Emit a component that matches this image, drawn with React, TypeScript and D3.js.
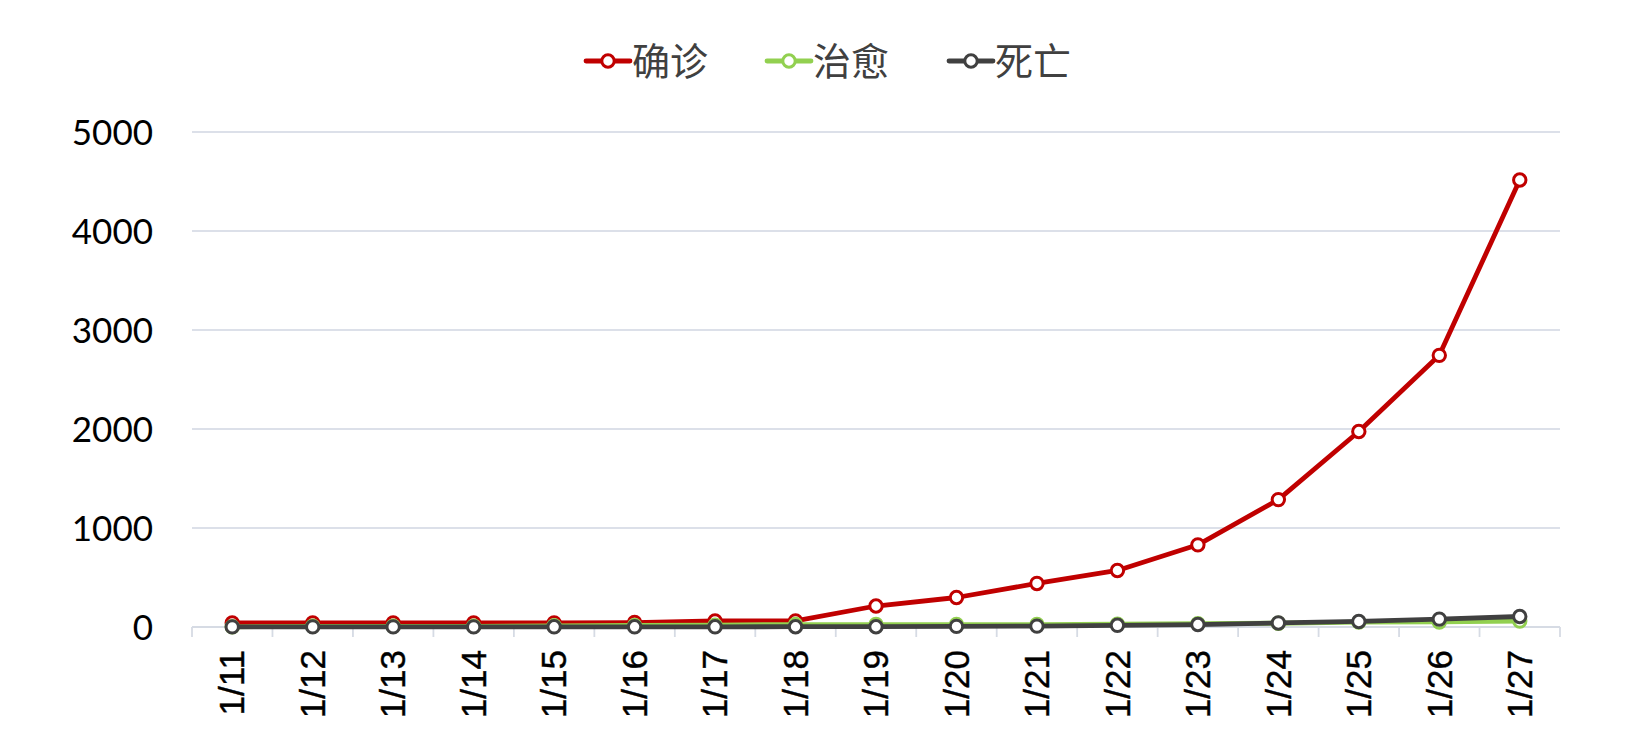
import React from "react";
import * as d3 from "d3";

const categories = ["1/11","1/12","1/13","1/14","1/15","1/16","1/17","1/18","1/19","1/20","1/21","1/22","1/23","1/24","1/25","1/26","1/27"];
const confirmed = [41,41,41,41,41,45,62,62,212,298,440,571,830,1287,1975,2744,4515];
const cured = [2,7,7,7,12,15,19,25,25,25,25,28,34,38,49,51,60];
const deaths = [1,1,1,1,2,2,2,3,3,6,9,17,25,41,56,80,106];
const yTicks = [0,1000,2000,3000,4000,5000];
const seriesNames = ["确诊","治愈","死亡"];
const seriesColors = ["#c00000","#92d050","#404040"];

const W = 1627, H = 735;
const left = 192, right = 1560, top = 132, bottom = 627;

export default function App() {
  const x = d3.scaleBand<string>().domain(categories).range([left, right]).padding(0);
  const y = d3.scaleLinear().domain([0, 5000]).range([bottom, top]);
  const cx = (c: string) => (x(c) as number) + x.bandwidth() / 2;
  const line = d3.line<number>().x((_, i) => cx(categories[i])).y((d) => y(d));
  const allSeries = [confirmed, cured, deaths];
  const legendX = [586, 767, 949];

  return (
    <svg width={W} height={H} style={{ position: "absolute", left: 0, top: 0, background: "#fff" }}>
      {yTicks.filter((t) => t > 0).map((t) => (
        <line key={t} x1={left} x2={right} y1={y(t)} y2={y(t)} stroke="#dce0e9" strokeWidth={1.8} />
      ))}
      <line x1={left} x2={right} y1={y(0)} y2={y(0)} stroke="#d6dbe4" strokeWidth={1.8} />
      {categories.map((c) => (
        <line key={"tk" + c} x1={x(c) as number} x2={x(c) as number} y1={y(0)} y2={y(0) + 10} stroke="#d6dbe4" strokeWidth={1.8} />
      ))}
      <line x1={right} x2={right} y1={y(0)} y2={y(0) + 10} stroke="#d6dbe4" strokeWidth={1.8} />
      {yTicks.map((t) => (
        <text key={"yl" + t} x={153} y={y(t)} dy="0.36em" textAnchor="end" fontFamily="Lato, 'Open Sans', sans-serif" fontSize={35} fill="#000">{t}</text>
      ))}
      {categories.map((c) => (
        <text key={"xl" + c} transform={`translate(${cx(c)},${650}) rotate(-90)`} dy="0.35em" textAnchor="end" fontFamily="'Liberation Sans', Arial, sans-serif" fontSize={35} fill="#000" stroke="#000" strokeWidth={0.4}>{c}</text>
      ))}
      {allSeries.map((s, si) => (
        <g key={"s" + si}>
          <path d={line(s) as string} fill="none" stroke={seriesColors[si]} strokeWidth={4.8} strokeLinejoin="round" />
          {s.map((v, i) => (
            <circle key={i} cx={cx(categories[i])} cy={y(v)} r={6.2} fill="#fff" stroke={seriesColors[si]} strokeWidth={3} />
          ))}
        </g>
      ))}
      {seriesNames.map((n, i) => (
        <g key={"lg" + n}>
          <line x1={legendX[i]} x2={legendX[i] + 44} y1={61} y2={61} stroke={seriesColors[i]} strokeWidth={4.8} strokeLinecap="round" />
          <circle cx={legendX[i] + 22} cy={61} r={6.2} fill="#fff" stroke={seriesColors[i]} strokeWidth={3} />
          <text x={legendX[i] + 46} y={61} dy="0.36em" fontFamily="'Noto Sans CJK SC', sans-serif" fontSize={38} fill="#404040">{n}</text>
        </g>
      ))}
    </svg>
  );
}
